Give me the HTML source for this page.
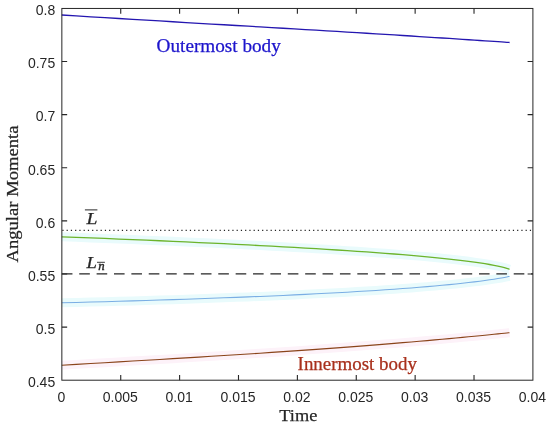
<!DOCTYPE html>
<html><head><meta charset="utf-8"><title>Angular Momenta</title>
<style>
html,body{margin:0;padding:0;background:#fff;}
svg{display:block}
.sans{font-family:"Liberation Sans",Arial,Helvetica,sans-serif;font-size:14px;fill:#262626}
.serif{font-family:"Liberation Serif","Times New Roman",serif;fill:#262626}
</style></head>
<body>
<svg width="550" height="426" viewBox="0 0 550 426">
<rect width="550" height="426" fill="#fff"/>
<g fill="none" stroke-width="9" stroke-linecap="butt">
<path d="M61.8,236.79 L76.3,237.35 L90.7,237.91 L104.8,238.47 L118.8,239.04 L132.6,239.61 L146.2,240.19 L159.7,240.77 L172.9,241.35 L185.9,241.94 L198.8,242.53 L211.4,243.12 L223.9,243.72 L236.1,244.33 L248.2,244.93 L260.0,245.55 L271.7,246.17 L283.1,246.79 L294.3,247.42 L305.3,248.05 L316.1,248.69 L326.6,249.34 L337.0,249.99 L347.1,250.64 L357.0,251.30 L366.6,251.97 L376.0,252.65 L385.2,253.33 L394.1,254.02 L402.8,254.71 L411.2,255.42 L419.3,256.13 L427.2,256.85 L434.8,257.57 L442.1,258.31 L449.2,259.05 L455.9,259.80 L462.4,260.56 L468.5,261.33 L474.3,262.11 L479.8,262.90 L484.9,263.70 L489.6,264.50 L494.0,265.30 L497.9,266.11 L501.4,266.90 L504.4,267.67 L506.8,268.38 L508.6,268.97 L509.5,269.29" stroke="#e9fbfc"/>
<path d="M61.8,302.81 L76.3,302.44 L90.7,302.07 L104.8,301.68 L118.8,301.29 L132.6,300.89 L146.2,300.48 L159.7,300.06 L172.9,299.63 L185.9,299.20 L198.8,298.76 L211.4,298.30 L223.9,297.84 L236.1,297.37 L248.2,296.89 L260.0,296.40 L271.7,295.91 L283.1,295.40 L294.3,294.88 L305.3,294.36 L316.1,293.82 L326.6,293.27 L337.0,292.72 L347.1,292.15 L357.0,291.58 L366.6,290.99 L376.0,290.40 L385.2,289.79 L394.1,289.18 L402.8,288.55 L411.2,287.92 L419.3,287.28 L427.2,286.62 L434.8,285.96 L442.1,285.29 L449.2,284.62 L455.9,283.93 L462.4,283.25 L468.5,282.56 L474.3,281.86 L479.8,281.18 L484.9,280.49 L489.6,279.82 L494.0,279.16 L497.9,278.53 L501.4,277.94 L504.4,277.40 L506.8,276.94 L508.6,276.59 L509.5,276.41" stroke="#e9fbfc"/>
<path d="M61.8,365.22 L76.3,364.37 L90.7,363.52 L104.8,362.69 L118.8,361.87 L132.6,361.06 L146.2,360.25 L159.7,359.45 L172.9,358.66 L185.9,357.87 L198.8,357.08 L211.4,356.30 L223.9,355.52 L236.1,354.74 L248.2,353.97 L260.0,353.20 L271.7,352.42 L283.1,351.66 L294.3,350.89 L305.3,350.12 L316.1,349.36 L326.6,348.60 L337.0,347.84 L347.1,347.08 L357.0,346.33 L366.6,345.59 L376.0,344.85 L385.2,344.11 L394.1,343.39 L402.8,342.67 L411.2,341.96 L419.3,341.26 L427.2,340.58 L434.8,339.91 L442.1,339.25 L449.2,338.61 L455.9,337.99 L462.4,337.39 L468.5,336.81 L474.3,336.25 L479.8,335.72 L484.9,335.22 L489.6,334.75 L494.0,334.31 L497.9,333.92 L501.4,333.56 L504.4,333.26 L506.8,333.00 L508.6,332.82 L509.5,332.73" stroke="#fdf2f9"/>
</g>
<g fill="none" stroke-width="1.3">
<path d="M61.8,15.01 L76.3,15.92 L90.7,16.80 L104.9,17.67 L118.8,18.52 L132.6,19.35 L146.3,20.17 L159.7,20.97 L172.9,21.75 L186.0,22.53 L198.8,23.28 L211.5,24.03 L223.9,24.76 L236.2,25.48 L248.2,26.19 L260.1,26.88 L271.7,27.57 L283.1,28.24 L294.3,28.91 L305.3,29.56 L316.1,30.20 L326.7,30.83 L337.0,31.45 L347.1,32.06 L357.0,32.66 L366.7,33.25 L376.1,33.83 L385.2,34.39 L394.2,34.95 L402.8,35.49 L411.2,36.02 L419.4,36.54 L427.3,37.04 L434.9,37.53 L442.2,38.00 L449.3,38.46 L456.0,38.90 L462.5,39.32 L468.6,39.73 L474.4,40.11 L479.8,40.48 L485.0,40.82 L489.7,41.14 L494.0,41.44 L498.0,41.71 L501.5,41.95 L504.5,42.15 L506.9,42.32 L508.7,42.45 L509.6,42.51" stroke="#2416b0"/>
<path d="M61.8,236.79 L76.3,237.35 L90.7,237.91 L104.8,238.47 L118.8,239.04 L132.6,239.61 L146.2,240.19 L159.7,240.77 L172.9,241.35 L185.9,241.94 L198.8,242.53 L211.4,243.12 L223.9,243.72 L236.1,244.33 L248.2,244.93 L260.0,245.55 L271.7,246.17 L283.1,246.79 L294.3,247.42 L305.3,248.05 L316.1,248.69 L326.6,249.34 L337.0,249.99 L347.1,250.64 L357.0,251.30 L366.6,251.97 L376.0,252.65 L385.2,253.33 L394.1,254.02 L402.8,254.71 L411.2,255.42 L419.3,256.13 L427.2,256.85 L434.8,257.57 L442.1,258.31 L449.2,259.05 L455.9,259.80 L462.4,260.56 L468.5,261.33 L474.3,262.11 L479.8,262.90 L484.9,263.70 L489.6,264.50 L494.0,265.30 L497.9,266.11 L501.4,266.90 L504.4,267.67 L506.8,268.38 L508.6,268.97 L509.5,269.29" stroke="#6cb42c"/>
<path d="M61.8,302.81 L76.3,302.44 L90.7,302.07 L104.8,301.68 L118.8,301.29 L132.6,300.89 L146.2,300.48 L159.7,300.06 L172.9,299.63 L185.9,299.20 L198.8,298.76 L211.4,298.30 L223.9,297.84 L236.1,297.37 L248.2,296.89 L260.0,296.40 L271.7,295.91 L283.1,295.40 L294.3,294.88 L305.3,294.36 L316.1,293.82 L326.6,293.27 L337.0,292.72 L347.1,292.15 L357.0,291.58 L366.6,290.99 L376.0,290.40 L385.2,289.79 L394.1,289.18 L402.8,288.55 L411.2,287.92 L419.3,287.28 L427.2,286.62 L434.8,285.96 L442.1,285.29 L449.2,284.62 L455.9,283.93 L462.4,283.25 L468.5,282.56 L474.3,281.86 L479.8,281.18 L484.9,280.49 L489.6,279.82 L494.0,279.16 L497.9,278.53 L501.4,277.94 L504.4,277.40 L506.8,276.94 L508.6,276.59 L509.5,276.41" stroke="#7aaee4" stroke-width="1.05"/>
<path d="M61.8,365.22 L76.3,364.37 L90.7,363.52 L104.8,362.69 L118.8,361.87 L132.6,361.06 L146.2,360.25 L159.7,359.45 L172.9,358.66 L185.9,357.87 L198.8,357.08 L211.4,356.30 L223.9,355.52 L236.1,354.74 L248.2,353.97 L260.0,353.20 L271.7,352.42 L283.1,351.66 L294.3,350.89 L305.3,350.12 L316.1,349.36 L326.6,348.60 L337.0,347.84 L347.1,347.08 L357.0,346.33 L366.6,345.59 L376.0,344.85 L385.2,344.11 L394.1,343.39 L402.8,342.67 L411.2,341.96 L419.3,341.26 L427.2,340.58 L434.8,339.91 L442.1,339.25 L449.2,338.61 L455.9,337.99 L462.4,337.39 L468.5,336.81 L474.3,336.25 L479.8,335.72 L484.9,335.22 L489.6,334.75 L494.0,334.31 L497.9,333.92 L501.4,333.56 L504.4,333.26 L506.8,333.00 L508.6,332.82 L509.5,332.73" stroke="#8a441a" stroke-width="1.1"/>
</g>
<path d="M62.35,230.35 H532.9" stroke="#262626" stroke-width="1.1" stroke-dasharray="1.2 3.05" fill="none"/>
<path d="M61.85,273.9 H532.9" stroke="#262626" stroke-width="1.4" stroke-dasharray="10.6 6.78" fill="none"/>
<rect x="61.85" y="8.45" width="471.05" height="371.75" fill="none" stroke="#262626" stroke-width="1"/>
<path d="M120.73,380.2 v-5.3 M120.73,8.45 v5.3 M179.61,380.2 v-5.3 M179.61,8.45 v5.3 M238.49,380.2 v-5.3 M238.49,8.45 v5.3 M297.38,380.2 v-5.3 M297.38,8.45 v5.3 M356.26,380.2 v-5.3 M356.26,8.45 v5.3 M415.14,380.2 v-5.3 M415.14,8.45 v5.3 M474.02,380.2 v-5.3 M474.02,8.45 v5.3 M61.85,327.09 h5.3 M532.9,327.09 h-5.3 M61.85,273.99 h5.3 M532.9,273.99 h-5.3 M61.85,220.88 h5.3 M532.9,220.88 h-5.3 M61.85,167.77 h5.3 M532.9,167.77 h-5.3 M61.85,114.66 h5.3 M532.9,114.66 h-5.3 M61.85,61.56 h5.3 M532.9,61.56 h-5.3" stroke="#262626" stroke-width="1.1" fill="none"/>
<g class="sans"><text x="61.35" y="402" text-anchor="middle">0</text><text x="120.23" y="402" text-anchor="middle">0.005</text><text x="179.11" y="402" text-anchor="middle">0.01</text><text x="237.99" y="402" text-anchor="middle">0.015</text><text x="296.88" y="402" text-anchor="middle">0.02</text><text x="355.76" y="402" text-anchor="middle">0.025</text><text x="414.64" y="402" text-anchor="middle">0.03</text><text x="473.52" y="402" text-anchor="middle">0.035</text><text x="532.40" y="402" text-anchor="middle">0.04</text><text x="55.2" y="386.95" text-anchor="end">0.45</text><text x="55.2" y="333.84" text-anchor="end">0.5</text><text x="55.2" y="280.74" text-anchor="end">0.55</text><text x="55.2" y="227.63" text-anchor="end">0.6</text><text x="55.2" y="174.52" text-anchor="end">0.65</text><text x="55.2" y="121.41" text-anchor="end">0.7</text><text x="55.2" y="68.31" text-anchor="end">0.75</text><text x="55.2" y="15.20" text-anchor="end">0.8</text></g>
<g class="serif" stroke-width="0.25">
<text x="279.3" y="420.6" font-size="17.3" textLength="38" lengthAdjust="spacingAndGlyphs" stroke="#262626">Time</text>
<text transform="translate(18.2,262.5) rotate(-90)" font-size="17.6" textLength="137" lengthAdjust="spacingAndGlyphs" stroke="#262626">Angular Momenta</text>
<text x="156.6" y="51.6" font-size="18" textLength="124.2" lengthAdjust="spacingAndGlyphs" style="fill:#1c14cc" stroke="#1c14cc">Outermost body</text>
<text x="297.6" y="369.7" font-size="18" textLength="119.4" lengthAdjust="spacingAndGlyphs" style="fill:#a8301c" stroke="#a8301c">Innermost body</text>
<text x="86.4" y="224.2" font-size="17.3" font-style="italic" textLength="11" lengthAdjust="spacingAndGlyphs" stroke="#262626">L</text>
<text x="86.6" y="267.8" font-size="17.2" font-style="italic" textLength="10.4" lengthAdjust="spacingAndGlyphs" stroke="#262626">L</text>
<text x="98.2" y="270.4" font-size="12" font-style="italic" textLength="6.4" lengthAdjust="spacingAndGlyphs" stroke="#262626" stroke-width="0.4">n</text>
</g>
<path d="M84.9,209.9 H97.4" stroke="#262626" stroke-width="1" fill="none"/>
<path d="M97,262.3 H104.9" stroke="#262626" stroke-width="0.9" fill="none"/>
</svg>
</body></html>
